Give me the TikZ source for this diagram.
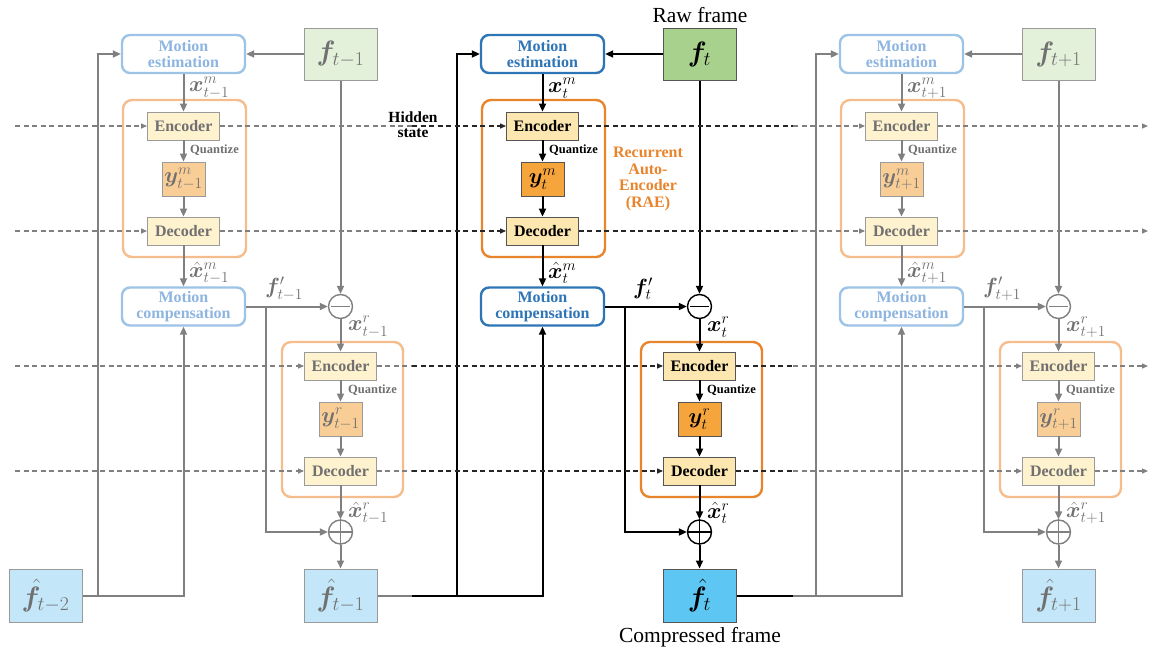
\RequirePackage{fix-cm}
\documentclass[tikz,border=0pt]{standalone}
\usepackage{amsmath}
\usepackage{fontspec}
\setmainfont{Liberation Serif}
\usepackage{bm}
\usetikzlibrary{arrows.meta}

% ---- colour sets: current step (m...) and neighbouring steps (f...) ----
\definecolor{mBlue}{HTML}{2E75B6}
\definecolor{fBlue}{HTML}{9DC3E6}
\definecolor{fBlueTx}{HTML}{8DB5E0}
\definecolor{mOrange}{HTML}{E8842C}
\definecolor{fOrange}{HTML}{F5BC8C}
\definecolor{mCodec}{HTML}{FDE7B1}
\definecolor{fCodec}{HTML}{FFF2CF}
\definecolor{mLatent}{HTML}{F5A53C}
\definecolor{fLatent}{HTML}{F9CE96}
\definecolor{mRaw}{HTML}{A9D18E}
\definecolor{fRaw}{HTML}{E3F0DA}
\definecolor{mRec}{HTML}{5DC6F2}
\definecolor{fRec}{HTML}{C3E7F8}
\definecolor{fLine}{HTML}{808080}
\definecolor{fText}{HTML}{707070}
\definecolor{fBorder}{HTML}{9A9A9A}
\definecolor{mBorder}{HTML}{555555}

% working colour names, reset by the palette keys
\colorlet{ln}{black}
\colorlet{bluebd}{mBlue}
\colorlet{bluetx}{mBlue}
\colorlet{orng}{mOrange}
\colorlet{encfill}{mCodec}
\colorlet{encbd}{mBorder}
\colorlet{enctx}{black}
\colorlet{yfill}{mLatent}
\colorlet{mathc}{black}
\colorlet{ffill}{mRaw}
\colorlet{fhfill}{mRec}
\colorlet{boxbd}{mBorder}

\tikzset{
  palette main/.code={%
    \colorlet{ln}{black}\colorlet{bluebd}{mBlue}\colorlet{bluetx}{mBlue}%
    \colorlet{orng}{mOrange}\colorlet{encfill}{mCodec}\colorlet{encbd}{mBorder}%
    \colorlet{enctx}{black}\colorlet{yfill}{mLatent}\colorlet{mathc}{black}%
    \colorlet{ffill}{mRaw}\colorlet{fhfill}{mRec}\colorlet{boxbd}{mBorder}},
  palette faded/.code={%
    \colorlet{ln}{fLine}\colorlet{bluebd}{fBlue}\colorlet{bluetx}{fBlueTx}%
    \colorlet{orng}{fOrange}\colorlet{encfill}{fCodec}\colorlet{encbd}{fBorder}%
    \colorlet{enctx}{fText}\colorlet{yfill}{fLatent}\colorlet{mathc}{fText}%
    \colorlet{ffill}{fRaw}\colorlet{fhfill}{fRec}\colorlet{boxbd}{fBorder}},
  blk/.style={draw=bluebd, text=bluetx, fill=white, line width=2.4pt,
    rounded corners=8pt, minimum width=123pt, minimum height=38pt,
    inner sep=0pt, align=center, font=\fontsize{16}{16.5}\selectfont\bfseries},
  rae/.style={draw=orng, line width=2.4pt, rounded corners=9pt, inner sep=0pt},
  codec/.style={draw=encbd, fill=encfill, text=enctx, line width=0.9pt,
    minimum width=72pt, minimum height=28pt, inner sep=0pt,
    font=\fontsize{16}{17}\selectfont\bfseries},
  latent/.style={draw=encbd, fill=yfill, text=mathc, line width=0.9pt,
    minimum width=43pt, minimum height=34pt, inner sep=0pt,
    font=\fontsize{22}{24}\selectfont},
  frame/.style={draw=boxbd, line width=1pt, minimum width=73pt,
    minimum height=52pt, inner sep=0pt, text=mathc,
    font=\fontsize{28}{30}\selectfont},
  op/.style={circle, draw=ln, fill=white, line width=1.4pt,
    minimum size=24pt, inner sep=0pt},
  conn/.style={draw=ln, line width=2pt},
  arr/.style={conn, -{Triangle[length=8pt,width=7pt]}},
  lab/.style={text=mathc, inner sep=0pt, font=\fontsize{22}{24}\selectfont},
  qlab/.style={text=enctx, inner sep=0pt, font=\fontsize{12.5}{13}\selectfont\bfseries},
  hid/.style={line width=1.3pt, dash pattern=on 5pt off 3.5pt},
  hidarr/.style={hid, -{Triangle[length=6pt,width=5pt]}},
}

% one coding step: #1 name prefix, #2 horizontal offset, #3 time index, #4 palette
\newcommand\codingstep[4]{%
\begin{scope}[xshift=#2pt, #4]
  \node[frame, fill=ffill] (#1f) at (340.5,54) {$\bm{f}_{#3}$};
  \node[blk] (#1me) at (183.5,54) {Motion\\estimation};
  \node[rae, minimum width=123pt, minimum height=157pt] (#1raem) at (184.5,178.5) {};
  \node[codec] (#1encm) at (183.5,126) {Encoder};
  \node[latent] (#1ym) at (183.5,179) {$\bm{y}^{m}_{#3}$};
  \node[codec] (#1decm) at (183.5,231) {Decoder};
  \node[blk] (#1mc) at (183.5,306.5) {Motion\\compensation};
  \node[op] (#1min) at (340.5,306.5) {};
  \node[rae, minimum width=121pt, minimum height=155pt] (#1raer) at (342.5,419.5) {};
  \node[codec] (#1encr) at (340.5,366) {Encoder};
  \node[latent] (#1yr) at (340.5,419) {$\bm{y}^{r}_{#3}$};
  \node[codec] (#1decr) at (340.5,471) {Decoder};
  \node[op] (#1plus) at (340.5,532) {};
  \node[frame, fill=fhfill, minimum height=53pt] (#1fh) at (340.5,595.5) {$\hat{\bm{f}}_{#3}$};
  \coordinate (#1br) at (266,306.5);
  \coordinate (#1in) at (98,595.5);
  % signal labels
  \node[lab, anchor=west] (#1lxm) at (189,88) {$\bm{x}^{m}_{#3}$};
  \node[lab, anchor=west] (#1lxhm) at (189,273) {$\hat{\bm{x}}^{m}_{#3}$};
  \node[lab] (#1lfp) at (284,289) {$\bm{f}'_{#3}$};
  \node[lab, anchor=west] (#1lxr) at (348,327) {$\bm{x}^{r}_{#3}$};
  \node[lab, anchor=west] (#1lxhr) at (348,513) {$\hat{\bm{x}}^{r}_{#3}$};
  \node[qlab, anchor=west] (#1qm) at (190,150) {Quantize};
  \node[qlab, anchor=west] (#1qr) at (348,390) {Quantize};
  % minus and plus signs
  \draw[ln, line width=1.4pt] ([xshift=3.5pt]#1min.west) -- ([xshift=-3.5pt]#1min.east);
  \draw[ln, line width=1.4pt] (#1plus.west) -- (#1plus.east)
                              (#1plus.north) -- (#1plus.south);
  % data flow
  \draw[arr] (#1f) -- (#1me);
  \draw[arr] (#1f) -- (#1min);
  \draw[arr] (#1me) -- (#1encm);
  \draw[arr] (#1encm) -- (#1ym);
  \draw[arr] (#1ym) -- (#1decm);
  \draw[arr] (#1decm) -- (#1mc);
  \draw[arr] (#1mc) -- (#1min);
  \draw[arr] (#1br) |- (#1plus);
  \draw[arr] (#1min) -- (#1encr);
  \draw[arr] (#1encr) -- (#1yr);
  \draw[arr] (#1yr) -- (#1decr);
  \draw[arr] (#1decr) -- (#1plus);
  \draw[arr] (#1plus) -- (#1fh);
  \draw[arr] (#1in) |- (#1me);
\end{scope}}

\begin{document}
\begin{tikzpicture}[x=1pt, y=-1pt]
\useasboundingbox (0,0) rectangle (1152,651);

\codingstep{L}{0}{t-1}{palette faded}
\codingstep{C}{359}{t}{palette main}
\codingstep{R}{718}{t+1}{palette faded}

% where the faded colour meets the current step
\coordinate (sL) at (412,0);
\coordinate (sR) at (793,0);
\coordinate (dsx) at (15,0);
\coordinate (dex) at (1148,0);

% previously decoded frame feeding the first step
\begin{scope}[palette faded]
  \node[frame, fill=fhfill, minimum height=53pt] (P) at (45.5,595.5) {$\hat{\bm{f}}_{t-2}$};
  \draw[arr] (P) -| (Lmc);
\end{scope}

% decoded frames passed on to the next step
\draw[conn, draw=fLine] (Lfh) -- (sL |- Lfh);
\draw[arr, draw=black] (sL |- Lfh) -| (Cmc);
\draw[conn, draw=black] (Cfh) -- (sR |- Cfh);
\draw[arr, draw=fLine] (sR |- Cfh) -| (Rmc);

% hidden states running through the encoders and decoders
\foreach \n in {encm,decm,encr,decr}{
  \draw[hidarr, draw=fLine] (dsx |- L\n.west) -- (L\n.west);
  \draw[hid, draw=fLine] (L\n.east) -- (sL |- L\n.east);
  \draw[hidarr, draw=black!85] (sL |- L\n.east) -- (C\n.west);
  \draw[hid, draw=black!85] (C\n.east) -- (sR |- C\n.east);
  \draw[hidarr, draw=fLine] (sR |- C\n.east) -- (R\n.west);
  \draw[hidarr, draw=fLine] (R\n.east) -- (dex |- R\n.east);
}

% captions
\node[align=center, font=\fontsize{15.5}{15}\selectfont\bfseries] (hidden) at (413,125) {Hidden\\state};
\node[align=center, text=mOrange, font=\fontsize{16}{16.5}\selectfont\bfseries] (raelab) at (648,179) {Recurrent\\Auto-\\Encoder\\(RAE)};
\node[font=\fontsize{21.5}{23}\selectfont] (raw) at (700,15) {Raw frame};
\node[font=\fontsize{21.5}{23}\selectfont] (comp) at (700,637) {Compressed frame};
\end{tikzpicture}
\end{document}
